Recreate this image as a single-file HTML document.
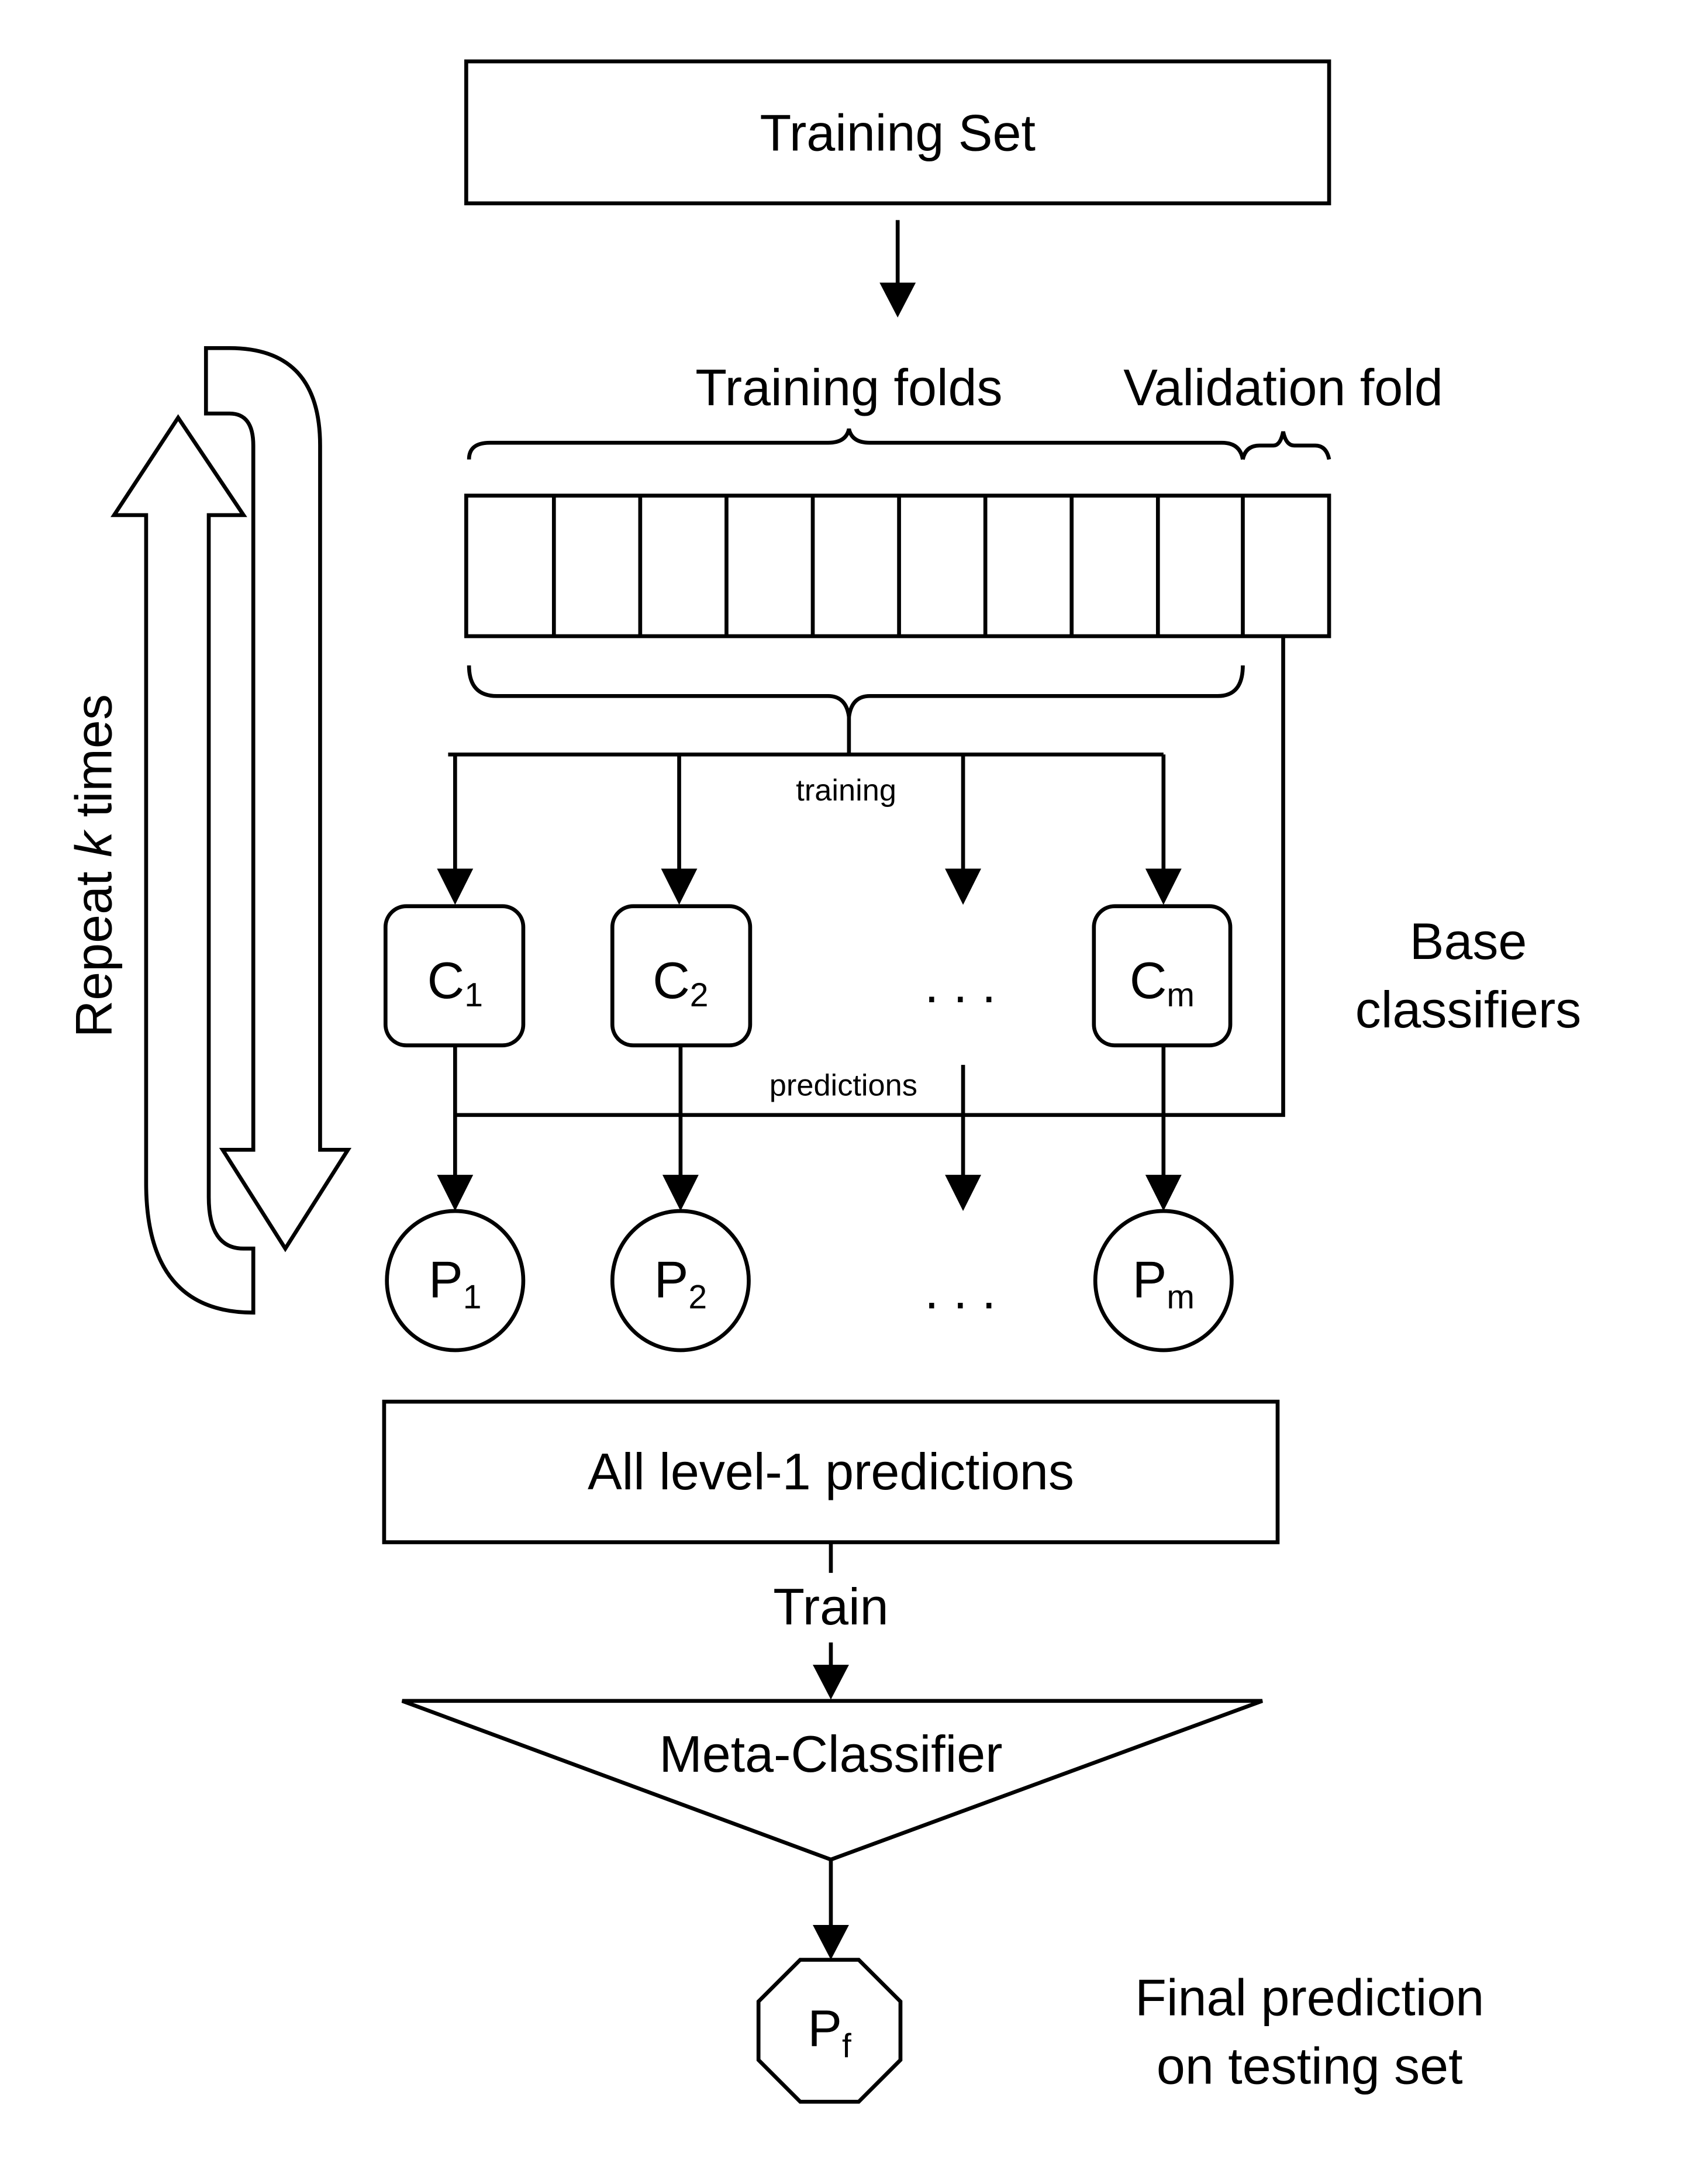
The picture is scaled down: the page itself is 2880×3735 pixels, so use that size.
<!DOCTYPE html>
<html><head><meta charset="utf-8"><style>html,body{margin:0;padding:0;background:#fff}svg{display:block}</style></head>
<body>
<svg width="2880" height="3735" viewBox="0 0 1210 1569" xmlns="http://www.w3.org/2000/svg" font-family="'Liberation Sans', sans-serif">
<rect width="1210" height="1569" fill="#fff"/>
<g fill="none" stroke="#000" stroke-width="2.8">
<rect x="335" y="44" width="620" height="102"/>
<rect x="335" y="356" width="620" height="101"/>
<path d="M398,356V457M460,356V457M522,356V457M584,356V457M646,356V457M708,356V457M770,356V457M832,356V457M893,356V457"/>
<path d="M337,330 Q337,318 352,318 L595,318 Q608,318 610,308 Q612,318 625,318 L878,318 Q891,318 893,330"/>
<path d="M893,330 Q895,320 905,320 L915,320 Q920,320 922,310 Q924,320 930,320 L945,320 Q953,320 955,330"/>
<path d="M337,478 Q337,500 357,500 L595,500 Q608,500 610,515 Q612,500 625,500 L875,500 Q893,500 893,478"/>
<path d="M610,515 V542 M322,542 H836"/>
<path d="M645,158 V205"/>
<path d="M327,542 V625 M488,542 V625 M692,542 V625 M836,542 V625"/>
<rect x="277" y="651" width="99" height="100" rx="15"/>
<rect x="440" y="651" width="99" height="100" rx="15"/>
<rect x="786" y="651" width="98" height="100" rx="15"/>
<path d="M922,457 V801 H327"/>
<path d="M327,751 V845 M489,751 V845 M692,765 V845 M836,751 V845"/>
<ellipse cx="327" cy="920" rx="49" ry="50"/>
<ellipse cx="489" cy="920" rx="49" ry="50"/>
<ellipse cx="836" cy="920" rx="49" ry="50"/>
<path d="M128,300 L175,370 L150,370 L150,860 Q150,897 175,897 L182,897 L182,943 Q105,943 105,850 L105,370 L82,370 Z"/>
<path d="M148,250 L148,297 L165,297 Q182,297 182,320 L182,826 L160,826 L205,897 L250,826 L230,826 L230,320 Q230,250 165,250 Z"/>
<rect x="276" y="1007" width="642" height="101"/>
<path d="M597,1108 V1130"/>
<path d="M597,1180 V1198"/>
<path d="M289,1222 L907,1222 L597,1336 Z"/>
<path d="M597,1336 V1385"/>
<path d="M575,1408 L617,1408 L647,1438 L647,1480 L617,1510 L575,1510 L545,1480 L545,1438 Z"/>
</g>
<g fill="#000">
<path d="M632,203 L658,203 L645,228 Z"/>
<path d="M314,624 L340,624 L327,650 Z"/>
<path d="M475,624 L501,624 L488,650 Z"/>
<path d="M679,624 L705,624 L692,650 Z"/>
<path d="M823,624 L849,624 L836,650 Z"/>
<path d="M314,844 L340,844 L327,870 Z"/>
<path d="M476,844 L502,844 L489,870 Z"/>
<path d="M679,844 L705,844 L692,870 Z"/>
<path d="M823,844 L849,844 L836,870 Z"/>
<path d="M584,1196 L610,1196 L597,1221 Z"/>
<path d="M584,1383 L610,1383 L597,1408 Z"/>
</g>
<g fill="#000" font-size="37" text-anchor="middle">
<text x="645" y="108">Training Set</text>
<text x="610" y="291">Training folds</text>
<text x="922" y="291">Validation fold</text>
<text x="1055" y="689">Base</text>
<text x="1055" y="738">classifiers</text>
<text x="597" y="1070">All level-1 predictions</text>
<text x="597" y="1167">Train</text>
<text x="597" y="1273">Meta-Classifier</text>
<text x="941" y="1448">Final prediction</text>
<text x="941" y="1497">on testing set</text>
<text transform="translate(80,622) rotate(-90)">Repeat <tspan font-style="italic">k</tspan> times</text>
<text x="327" y="717">C<tspan font-size="24" dy="6">1</tspan></text>
<text x="489" y="717">C<tspan font-size="24" dy="6">2</tspan></text>
<text x="835" y="717">C<tspan font-size="24" dy="6">m</tspan></text>
<text x="327" y="932">P<tspan font-size="24" dy="8">1</tspan></text>
<text x="489" y="932">P<tspan font-size="24" dy="8">2</tspan></text>
<text x="836" y="932">P<tspan font-size="24" dy="8">m</tspan></text>
<text x="596" y="1470">P<tspan font-size="24" dy="8">f</tspan></text>
<text x="690" y="720">. . .</text>
<text x="690" y="940">. . .</text>
<text x="608" y="575" font-size="22">training</text>
<text x="606" y="787" font-size="22">predictions</text>
</g>
</svg>
</body></html>
